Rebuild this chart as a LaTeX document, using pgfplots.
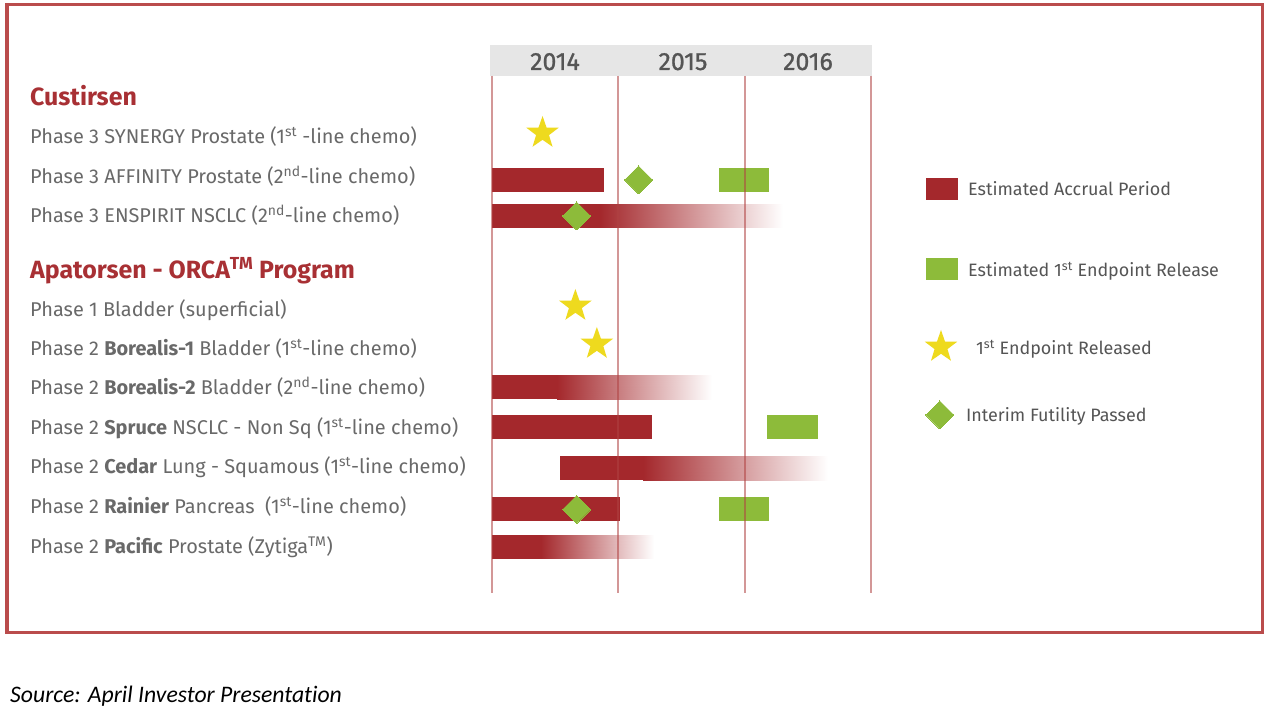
\documentclass[border=0pt]{standalone}
\usepackage{fontspec}
\setmainfont{Fira Sans}
\newfontfamily\yrfont[FakeBold=1]{Fira Sans}
\newfontfamily\srcfont[Ligatures=NoCommon]{Carlito}
\usepackage{pgfplots}
\pgfplotsset{compat=1.18}

\definecolor{accrual}{RGB}{164,40,44}
\definecolor{endpt}{RGB}{141,187,58}
\definecolor{staryel}{RGB}{238,218,30}
\definecolor{framecol}{RGB}{186,76,76}
\definecolor{gridcol}{RGB}{176,66,66}
\definecolor{headcol}{RGB}{168,48,52}
\definecolor{lblcol}{RGB}{105,105,105}
\definecolor{yrcol}{RGB}{85,85,85}
\definecolor{bandcol}{RGB}{230,230,230}

% filled five-pointed star
\pgfdeclareplotmark{fstar}{%
  \pgfpathmoveto{\pgfpointpolar{90}{\pgfplotmarksize}}%
  \pgfpathlineto{\pgfpointpolar{126}{0.4\pgfplotmarksize}}%
  \pgfpathlineto{\pgfpointpolar{162}{\pgfplotmarksize}}%
  \pgfpathlineto{\pgfpointpolar{198}{0.4\pgfplotmarksize}}%
  \pgfpathlineto{\pgfpointpolar{234}{\pgfplotmarksize}}%
  \pgfpathlineto{\pgfpointpolar{270}{0.4\pgfplotmarksize}}%
  \pgfpathlineto{\pgfpointpolar{306}{\pgfplotmarksize}}%
  \pgfpathlineto{\pgfpointpolar{342}{0.4\pgfplotmarksize}}%
  \pgfpathlineto{\pgfpointpolar{18}{\pgfplotmarksize}}%
  \pgfpathlineto{\pgfpointpolar{54}{0.4\pgfplotmarksize}}%
  \pgfpathclose
  \pgfusepathqfill
}

\begin{document}
\begin{tikzpicture}
\begin{axis}[
    name=ax,
    width=1280bp, height=720bp, scale only axis,
    xmin=2010.1055, xmax=2020.2374,
    ymin=0, ymax=720, y dir=reverse,
    axis lines=none, ticks=none,
    axis background/.style={fill=white},
    colormap={fadecm}{rgb255=(164,40,44) rgb255=(255,255,255)},
    point meta min=0, point meta max=1,
    fade/.style={surf, shader=interp, point meta=explicit, mesh/cols=2},
    diam/.style={only marks, mark=square*, mark size=9.9bp, mark options={rotate=45, draw=endpt, fill=endpt, line width=0pt}},
    star/.style={only marks, mark=fstar, mark size=17bp, mark options={fill=staryel}},
]
% header band
\fill[bandcol] (axis cs:2013.985,45) rectangle (axis cs:2017.01,76);

% estimated accrual period, solid parts
\addplot[draw=none, fill=accrual] coordinates {(2014,168) (2014.89,168) (2014.89,192) (2014,192)} -- cycle;
\addplot[draw=none, fill=accrual] coordinates {(2014,204) (2014.86,204) (2014.86,228) (2014,228)} -- cycle;
\addplot[draw=none, fill=accrual] coordinates {(2014,375.5) (2014.52,375.5) (2014.52,399.5) (2014,399.5)} -- cycle;
\addplot[draw=none, fill=accrual] coordinates {(2014,415) (2015.27,415) (2015.27,439) (2014,439)} -- cycle;
\addplot[draw=none, fill=accrual] coordinates {(2014.54,456.5) (2015.20,456.5) (2015.20,480.5) (2014.54,480.5)} -- cycle;
\addplot[draw=none, fill=accrual] coordinates {(2014,497.5) (2015.01,497.5) (2015.01,521.5) (2014,521.5)} -- cycle;
\addplot[draw=none, fill=accrual] coordinates {(2014,535) (2014.39,535) (2014.39,559) (2014,559)} -- cycle;
% estimated accrual period, fading parts (meta 0 = full colour, 1 = white)
\addplot[fade] coordinates {(2014.855,204) [0] (2016.30,204) [1] (2014.855,228) [0] (2016.30,228) [1]};
\addplot[fade] coordinates {(2014.515,375.5) [0] (2015.74,375.5) [1] (2014.515,399.5) [0] (2015.74,399.5) [1]};
\addplot[fade] coordinates {(2015.195,456.5) [0] (2016.66,456.5) [1] (2015.195,480.5) [0] (2016.66,480.5) [1]};
\addplot[fade] coordinates {(2014.385,535) [0] (2015.28,535) [1] (2014.385,559) [0] (2015.28,559) [1]};

% estimated 1st endpoint release
\addplot[draw=none, fill=endpt] coordinates {(2015.80,168) (2016.19,168) (2016.19,192) (2015.80,192)} -- cycle;
\addplot[draw=none, fill=endpt] coordinates {(2016.18,415) (2016.58,415) (2016.58,439) (2016.18,439)} -- cycle;
\addplot[draw=none, fill=endpt] coordinates {(2015.80,497.5) (2016.19,497.5) (2016.19,521.5) (2015.80,521.5)} -- cycle;

% year rules, over the bars
\foreach \yr in {2014,2015,2016,2017}{
  \edef\tmp{\noexpand\draw[gridcol, line width=2bp, opacity=0.55] (axis cs:\yr,76) -- (axis cs:\yr,593);}\tmp
}

% interim futility passed
\addplot[diam] coordinates {(2015.16,180) (2014.67,216) (2014.67,509.5)};
% 1st endpoint released
\addplot[star] coordinates {(2014.40,133) (2014.66,306) (2014.83,344)};

% legend keys
\addplot[draw=none, fill=accrual] coordinates {(2017.435,178) (2017.689,178) (2017.689,200) (2017.435,200)} -- cycle;
\addplot[draw=none, fill=endpt] coordinates {(2017.435,258) (2017.689,258) (2017.689,280) (2017.435,280)} -- cycle;
\addplot[star] coordinates {(2017.554,347)};
\addplot[diam] coordinates {(2017.546,415)};
\end{axis}

\begin{scope}[shift={(ax.north west)}, x=1bp, y=-1bp,
  lbl/.style={anchor=base west, inner sep=0pt, text=lblcol, font=\fontsize{20}{22}\selectfont},
  hd/.style={anchor=base west, inner sep=0pt, text=headcol, font=\fontsize{25}{27}\selectfont\bfseries},
  leg/.style={anchor=base west, inner sep=0pt, text=yrcol, font=\fontsize{18}{20}\selectfont},
  yr/.style={anchor=base, inner sep=0pt, text=yrcol, font=\yrfont\fontsize{25}{27}\selectfont}]
\draw[framecol, line width=3bp] (7,5) rectangle (1262,633);

\node[yr] at (555,70) {2014};
\node[yr] at (683,70) {2015};
\node[yr] at (808,70) {2016};

\node[hd] at (30,106) {Custirsen};
\node[lbl] at (30,144) {Phase 3 SYNERGY Prostate (1\textsuperscript{st} -line chemo)};
\node[lbl] at (30,184) {Phase 3 AFFINITY Prostate (2\textsuperscript{nd}-line chemo)};
\node[lbl] at (30,223) {Phase 3 ENSPIRIT NSCLC (2\textsuperscript{nd}-line chemo)};

\node[hd] at (30,279) {Apatorsen - ORCA\textsuperscript{TM} Program};
\node[lbl] at (30,317) {Phase 1 Bladder (superficial)};
\node[lbl] at (30,356) {Phase 2 \textbf{Borealis-1} Bladder (1\textsuperscript{st}-line chemo)};
\node[lbl] at (30,395) {Phase 2 \textbf{Borealis-2} Bladder (2\textsuperscript{nd}-line chemo)};
\node[lbl] at (30,435) {Phase 2 \textbf{Spruce} NSCLC - Non Sq (1\textsuperscript{st}-line chemo)};
\node[lbl] at (30,474) {Phase 2 \textbf{Cedar} Lung - Squamous (1\textsuperscript{st}-line chemo)};
\node[lbl] at (30,514) {Phase 2 \textbf{Rainier} Pancreas\ \ (1\textsuperscript{st}-line chemo)};
\node[lbl] at (30,554) {Phase 2 \textbf{Pacific} Prostate (Zytiga\textsuperscript{TM})};

\node[leg] at (968,196) {Estimated Accrual Period};
\node[leg] at (968,277) {Estimated 1\textsuperscript{st} Endpoint Release};
\node[leg] at (976,355) {1\textsuperscript{st} Endpoint Released};
\node[leg] at (966,422) {Interim Futility Passed};

\node[anchor=base west, inner sep=0pt, font=\srcfont\itshape\fontsize{23.8}{26}\selectfont] at (10,703) {Source: April Investor Presentation};
\end{scope}
\end{tikzpicture}
\end{document}
